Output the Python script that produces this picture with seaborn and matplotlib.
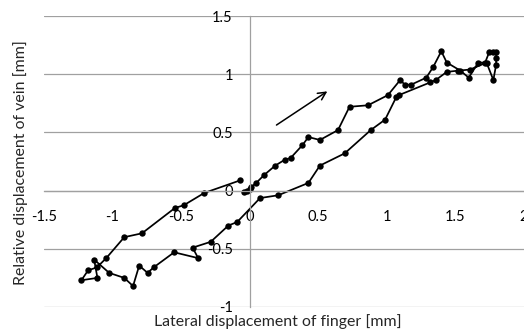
import matplotlib
matplotlib.use("Agg")
import matplotlib.pyplot as plt
import seaborn as sns
import pandas as pd

# Lateral displacement of finger [mm] (path order)
finger_x = [-0.037, -0.02, 0.0, 0.012, 0.049, 0.106, 0.188, 0.256, 0.30, 0.386,
            0.43, 0.514, 0.646, 0.73, 0.865, 1.01, 1.10, 1.134, 1.18, 1.29,
            1.34, 1.40, 1.44, 1.54, 1.60, 1.67, 1.72, 1.75, 1.78, 1.80,
            1.80, 1.80, 1.78,
            1.73, 1.61, 1.52, 1.44, 1.36, 1.32, 1.09, 1.07, 0.99, 0.885,
            0.695, 0.514, 0.43, 0.21, 0.077, -0.09, -0.154, -0.283, -0.415, -0.375,
            -0.55, -0.70, -0.744, -0.805, -0.85, -0.914, -1.024, -1.134, -1.11, -1.227,
            -1.178, -1.114, -1.044, -0.914, -0.785, -0.544, -0.48, -0.33, -0.068]
# Relative displacement of vein [mm]
vein_y = [-0.015, -0.006, 0.015, 0.03, 0.066, 0.133, 0.215, 0.264, 0.28, 0.39,
          0.46, 0.435, 0.52, 0.72, 0.733, 0.82, 0.95, 0.91, 0.91, 0.97,
          1.06, 1.197, 1.10, 1.03, 0.97, 1.10, 1.10, 1.19, 1.19, 1.19,
          1.14, 1.08, 0.95,
          1.10, 1.04, 1.03, 1.02, 0.95, 0.93, 0.82, 0.80, 0.61, 0.52,
          0.32, 0.215, 0.066, -0.04, -0.064, -0.27, -0.30, -0.44, -0.49, -0.58,
          -0.53, -0.66, -0.707, -0.644, -0.82, -0.75, -0.707, -0.593, -0.75, -0.77,
          -0.685, -0.66, -0.578, -0.40, -0.367, -0.149, -0.126, -0.02, 0.088]

x_ticks = [-1.5, -1, -0.5, 0, 0.5, 1, 1.5, 2]
y_ticks = [-1, -0.5, 0, 0.5, 1, 1.5]
x_tick_labels = ["-1.5", "-1", "-0.5", "0", "0.5", "1", "1.5", "2"]
y_tick_labels = ["-1", "-0.5", "0", "0.5", "1", "1.5"]

sns.set_style("white")
plt.rcParams['font.family'] = ['Lato', 'DejaVu Sans']
plt.rcParams['axes.unicode_minus'] = False

df = pd.DataFrame({"finger": finger_x, "vein": vein_y, "idx": range(len(finger_x))})

fig = plt.figure(figsize=(5.24, 3.31), dpi=100)
ax = fig.add_axes([44 / 524, 1 - 307 / 331, 479.5 / 524, 291 / 331])

grid_c = "#a0a0a0"
for yv in y_ticks:
    ax.axhline(yv, color=grid_c, lw=0.9, zorder=0)

sns.lineplot(data=df, x="finger", y="vein", sort=False, estimator=None,
             color="black", marker="o", markersize=4.6, markeredgewidth=0,
             linewidth=1.25, ax=ax)

ax.annotate("", xy=(0.585, 0.866), xytext=(0.18, 0.55),
            arrowprops=dict(arrowstyle="->", color="black", lw=1.1, mutation_scale=14))

ax.set_xlim(-1.5, 2)
ax.set_ylim(-1, 1.5)
ax.spines['top'].set_visible(False)
ax.spines['right'].set_visible(False)
ax.spines['left'].set_position(('data', 0))
ax.spines['bottom'].set_position(('data', 0))
for s in ('left', 'bottom'):
    ax.spines[s].set_color(grid_c)
    ax.spines[s].set_linewidth(0.9)

ax.set_xticks(x_ticks)
ax.set_xticklabels(x_tick_labels)
ax.set_yticks(y_ticks)
ax.set_yticklabels(y_tick_labels)
ax.tick_params(axis='x', direction='out', length=4, width=0.9, color=grid_c,
               pad=10, labelsize=10.5, labelcolor="#000000")
ax.tick_params(axis='y', length=0, pad=12, labelsize=10.5, labelcolor="#000000")

ax.set_xlabel("Lateral displacement of finger [mm]", fontsize=11.4)
ax.set_ylabel("Relative displacement of vein [mm]", fontsize=11.4)
ax.xaxis.set_label_coords(0.487, -0.025)
ax.yaxis.set_label_coords(-0.033, 0.497)

fig.savefig("out.png", dpi=100)
